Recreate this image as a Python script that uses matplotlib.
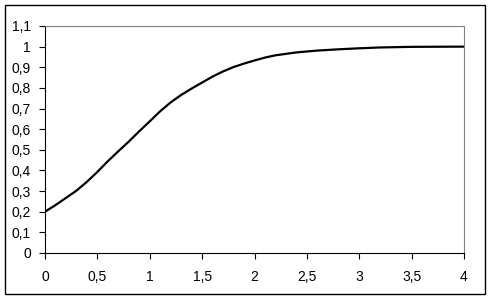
import matplotlib
matplotlib.use("Agg")
import matplotlib.pyplot as plt
from matplotlib.patches import Rectangle

# curve values
x_vals = [0, 0.1, 0.2, 0.3, 0.4, 0.5, 0.6, 0.7, 0.8, 0.9, 1.0, 1.1, 1.2, 1.3,
          1.4, 1.5, 1.6, 1.7, 1.8, 1.9, 2.0, 2.1, 2.2, 2.4, 2.6, 2.8, 3.0,
          3.2, 3.5, 4.0]
y_vals = [0.200, 0.232, 0.267, 0.302, 0.345, 0.393, 0.445, 0.493, 0.540,
          0.590, 0.638, 0.687, 0.730, 0.766, 0.797, 0.826, 0.855, 0.880,
          0.901, 0.918, 0.933, 0.947, 0.958, 0.972, 0.981, 0.987, 0.992,
          0.996, 0.999, 1.0]

x_ticks = [0, 0.5, 1, 1.5, 2, 2.5, 3, 3.5, 4]
x_labels = ['0', '0,5', '1', '1,5', '2', '2,5', '3', '3,5', '4']
y_ticks = [0, 0.1, 0.2, 0.3, 0.4, 0.5, 0.6, 0.7, 0.8, 0.9, 1.0, 1.1]
y_labels = ['0', '0,1', '0,2', '0,3', '0,4', '0,5', '0,6', '0,7', '0,8', '0,9', '1', '1,1']

plt.rcParams['font.family'] = ['Liberation Sans', 'DejaVu Sans']

fig = plt.figure(figsize=(4.92, 3.01), dpi=100)
ax = fig.add_axes([45 / 492, 48 / 301, 419 / 492, 227 / 301])

# outer chart border
fig.patches.append(Rectangle((5 / 492, 7 / 301), 480 / 492, 289 / 301,
                             transform=fig.transFigure, fill=False,
                             edgecolor='black', linewidth=1.0))

ax.plot(x_vals, y_vals, color='black', linewidth=1.6)

ax.set_xlim(0, 4)
ax.set_ylim(0, 1.1)
ax.set_xticks(x_ticks)
ax.set_xticklabels(x_labels)
ax.set_yticks(y_ticks)
ax.set_yticklabels(y_labels)
ax.tick_params(direction='out', length=4, width=0.8, labelsize=10, pad=6)
ax.tick_params(axis='x', pad=8)

for s in ['top', 'right']:
    ax.spines[s].set_color('#808080')
for s in ['left', 'bottom']:
    ax.spines[s].set_color('black')
for s in ax.spines.values():
    s.set_linewidth(0.8)

fig.savefig('out.png', dpi=100)
